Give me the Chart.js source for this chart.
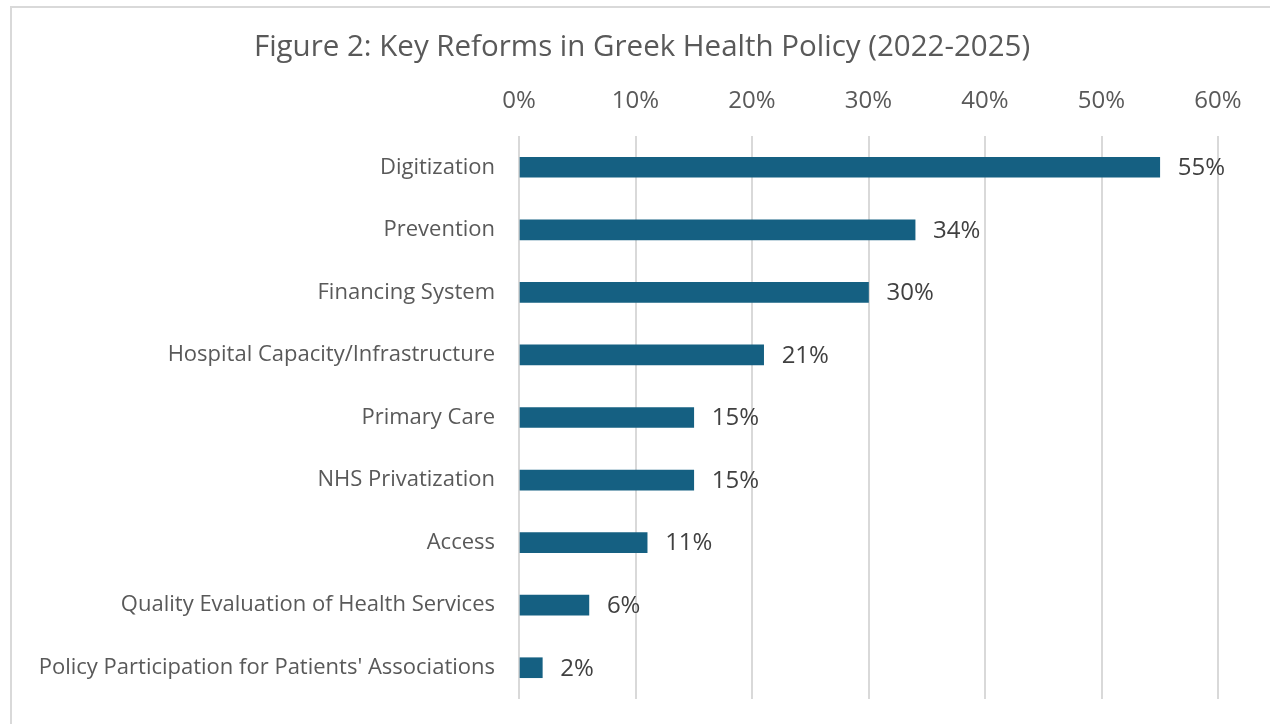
<!DOCTYPE html>
<html lang="en">
<head>
    <meta charset="UTF-8">
    <title>Key Reforms in Greek Health Policy</title>
    <script src="https://cdn.jsdelivr.net/npm/chart.js"></script>
    <style>
        html, body {
            margin: 0;
            padding: 0;
            background: #fff;
            overflow: hidden;
        }
        .frame {
            position: absolute;
            left: 10px;
            top: 6px;
            width: 1400px;
            height: 800px;
            border: 2px solid #d9d9d9;
        }
        .chart-box {
            position: absolute;
            left: 0;
            top: 0;
            width: 1270px;
            height: 724px;
        }
    </style>
</head>
<body>
    <div class="frame"></div>
    <div class="chart-box">
        <canvas id="reformChart"></canvas>
    </div>

    <script>
        // Reform areas and share of mentions (%)
        const categories = [
            'Digitization',
            'Prevention',
            'Financing System',
            'Hospital Capacity/Infrastructure',
            'Primary Care',
            'NHS Privatization',
            'Access',
            'Quality Evaluation of Health Services',
            "Policy Participation for Patients' Associations"
        ];
        const shares = [55, 34, 30, 21, 15, 15, 11, 6, 2];
        const tickValues = [0, 10, 20, 30, 40, 50, 60];

        const fontFamily = '"Open Sans", sans-serif';

        // Percent labels to the right of each bar
        const valueLabels = {
            id: 'valueLabels',
            afterDatasetsDraw(chart) {
                const ctx = chart.ctx;
                const meta = chart.getDatasetMeta(0);
                ctx.save();
                ctx.font = '24px ' + fontFamily;
                ctx.fillStyle = '#404040';
                ctx.textAlign = 'left';
                ctx.textBaseline = 'middle';
                meta.data.forEach((bar, i) => {
                    ctx.fillText(shares[i] + '%', bar.x + 18, bar.y + 1);
                });
                ctx.restore();
            }
        };

        new Chart(document.getElementById('reformChart'), {
            type: 'bar',
            data: {
                labels: categories,
                datasets: [{
                    data: shares,
                    backgroundColor: '#156082',
                    barThickness: 20
                }]
            },
            options: {
                indexAxis: 'y',
                responsive: true,
                maintainAspectRatio: false,
                animation: false,
                layout: {
                    padding: { top: 10, right: 0, bottom: 25, left: 14 }
                },
                plugins: {
                    legend: { display: false },
                    tooltip: { enabled: false },
                    title: {
                        display: true,
                        text: 'Figure 2: Key Reforms in Greek Health Policy (2022-2025)',
                        color: '#595959',
                        font: { family: fontFamily, size: 29.5, weight: 'normal' },
                        padding: { top: 20, bottom: 10 }
                    }
                },
                scales: {
                    x: {
                        position: 'top',
                        min: 0,
                        max: 60,
                        afterBuildTicks(scale) {
                            scale.ticks = tickValues.map(v => ({ value: v }));
                        },
                        afterFit(scale) {
                            scale.height = 60.6;
                            scale.paddingRight = 52;
                        },
                        ticks: {
                            color: '#595959',
                            padding: 20,
                            font: { family: fontFamily, size: 24 },
                            callback: v => v + '%'
                        },
                        grid: {
                            color: '#d9d9d9',
                            lineWidth: 2,
                            drawTicks: false
                        },
                        border: { display: false }
                    },
                    y: {
                        afterFit(scale) {
                            scale.width = 505;
                            scale.paddingTop = 0;
                            scale.paddingBottom = 0;
                        },
                        ticks: {
                            color: '#595959',
                            padding: 16,
                            font: { family: fontFamily, size: 22 }
                        },
                        grid: { display: false },
                        border: { display: false }
                    }
                }
            },
            plugins: [valueLabels]
        });
    </script>
</body>
</html>
